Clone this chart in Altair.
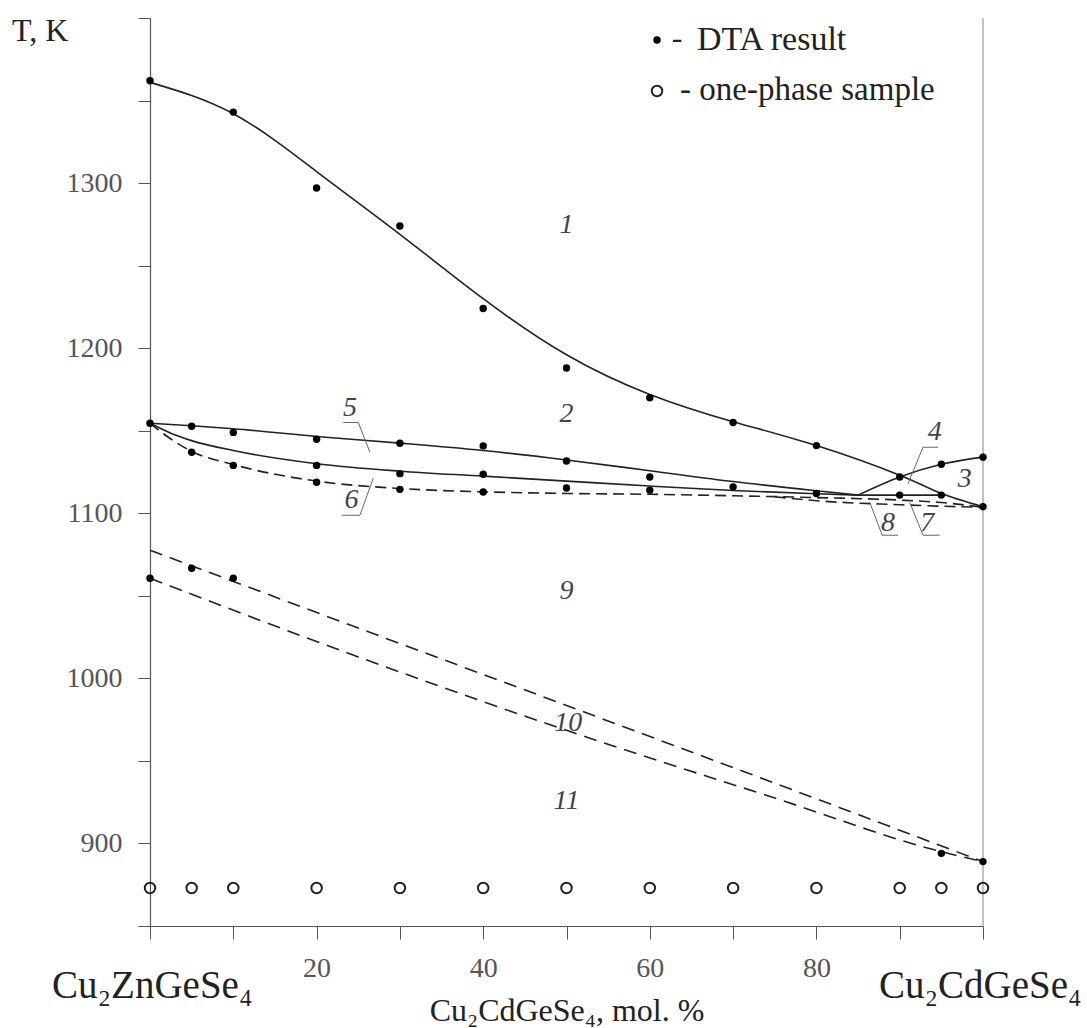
import altair as alt
import pandas as pd

SERIF = "'Liberation Serif', 'Times New Roman', 'DejaVu Serif', serif"
INK = "#222222"

# ---- DTA thermal effects (x = mol. % Cu2CdGeSe4, T in K) ----
dta_x = [0, 10, 20, 30, 40, 50, 60, 70, 80, 90, 95, 100,
         0, 5, 10, 20, 30, 40, 50,
         20, 30, 40,
         50, 60, 60, 70, 80,
         5, 10, 20, 30, 40,
         90, 95, 100,
         0, 5, 10, 95, 100]
dta_t = [1362, 1343, 1297, 1274, 1224, 1188, 1170, 1155, 1141, 1122, 1111, 1104,
         1154.5, 1152.7, 1149, 1144.8, 1142.4, 1140.8, 1131.7,
         1129, 1124, 1123.6,
         1115.3, 1122, 1114, 1116, 1112,
         1137, 1129, 1118.8, 1114.5, 1112.9,
         1111, 1129.7, 1134,
         1060.6, 1066.7, 1060.6, 894, 889]

# ---- one-phase samples ----
single_x = [0, 5, 10, 20, 30, 40, 50, 60, 70, 80, 90, 95, 100]
single_t = [873] * len(single_x)

# ---- solid phase boundaries ----
liquidus_x = [0, 10, 20, 30, 40, 50, 60, 70, 80, 90, 95, 100]
liquidus_t = [1361, 1342, 1307, 1269, 1230, 1196, 1172, 1155.5, 1141, 1123, 1112, 1104]

upper_x = [0, 5, 10, 20, 30, 40, 50, 60, 70, 80, 85]
upper_t = [1154.5, 1153, 1151.2, 1146.5, 1142.5, 1138, 1132.3, 1125.8, 1119.2, 1113.6, 1111]

middle_x = [0, 2.5, 5, 10, 20, 30, 40, 50, 60, 70, 80, 85]
middle_t = [1154.5, 1148.5, 1144, 1138, 1130, 1125.5, 1122.5, 1119.5, 1116.5, 1113.8, 1111.8, 1111]

plateau_x = [85, 95]
plateau_t = [1111, 1111]

rising_x = [85, 90, 95, 100]
rising_t = [1111, 1122, 1129.7, 1134]

# ---- dashed phase boundaries ----
solidus_x = [0, 2.5, 5, 10, 20, 30, 40, 50, 60, 70, 80, 90, 95, 100]
solidus_t = [1154.5, 1145, 1137.5, 1129.5, 1119.5, 1115, 1113, 1112, 1111.5, 1110.6, 1109.5, 1108, 1106.5, 1103.6]

branch_x = [75, 80, 90, 95, 100]
branch_t = [1110, 1107.6, 1105.2, 1104.3, 1103.6]

low_upper_x = [0, 25, 50, 75, 100]
low_upper_t = [1077.6, 1030.5, 983.6, 936.5, 889]

low_lower_x = [0, 25, 50, 75, 95, 100]
low_lower_t = [1060.6, 1013, 968.5, 927.5, 895, 889]

# ---- phase field numbers ----
field_text = ["1", "2", "3", "4", "5", "6", "7", "8", "9", "10", "11"]
field_x = [50, 50, 97.8, 94.2, 24, 24.2, 93.3, 88.6, 50, 50.2, 50]
field_t = [1274.5, 1160, 1121, 1149, 1163.6, 1108, 1094, 1094, 1053, 973, 926]

# ---- leader lines (x, T, x2, T2) ----
lead_x = [23.2, 25, 23, 25.2, 92.8, 92.8, 87.9, 87.9, 92.8, 92.8]
lead_t = [1155, 1155, 1098.8, 1098.8, 1140, 1140, 1086.7, 1086.7, 1086.7, 1086.7]
lead_x2 = [25, 26.4, 25.2, 26.8, 94.6, 91, 89.8, 86.4, 94.8, 91.2]
lead_t2 = [1155, 1137, 1098.8, 1121.2, 1140, 1118, 1086.7, 1106.7, 1086.7, 1106.7]


def curves(named):
    rows = []
    for name, xs, ts in named:
        for i, (a, b) in enumerate(zip(xs, ts)):
            rows.append({"curve": name, "i": i, "x": a, "T": b})
    return pd.DataFrame(rows)


liquidus_df = curves([("liquidus", liquidus_x, liquidus_t)])
solid_df = curves([("upper", upper_x, upper_t),
                   ("middle", middle_x, middle_t),
                   ("rising", rising_x, rising_t)])
plateau_df = curves([("plateau", plateau_x, plateau_t)])
dash_fine_df = curves([("solidus", solidus_x, solidus_t),
                       ("branch", branch_x, branch_t)])
dash_low_df = curves([("low_upper", low_upper_x, low_upper_t),
                      ("low_lower", low_lower_x, low_lower_t)])

dta_df = pd.DataFrame({"x": dta_x, "T": dta_t})
single_df = pd.DataFrame({"x": single_x, "T": single_t})
field_df = pd.DataFrame({"label": field_text, "x": field_x, "T": field_t})
lead_df = pd.DataFrame({"x": lead_x, "T": lead_t, "x2": lead_x2, "T2": lead_t2})

xscale = alt.Scale(domain=[0, 100], nice=False, zero=False)
yscale = alt.Scale(domain=[850, 1400], nice=False, zero=False)

x_axis = alt.Axis(
    values=list(range(0, 101, 10)), format="d",
    labelExpr="(datum.value % 20 == 0 && datum.value > 0 && datum.value < 100) ? datum.label : ''",
    grid=False, title=None, tickSize=13, labelPadding=15,
    labelFont=SERIF, labelFontSize=28, labelColor="#555555",
    domainColor="#555555", tickColor="#555555", domainWidth=1.2, tickWidth=1,
)
y_axis = alt.Axis(
    values=list(range(850, 1401, 50)), format="d",
    labelExpr="(datum.value % 100 == 0 && datum.value >= 900 && datum.value <= 1300) ? datum.label : ''",
    grid=False, title=None, tickSize=12, labelPadding=16,
    labelFont=SERIF, labelFontSize=28, labelColor="#555555",
    domainColor="#555555", tickColor="#555555", domainWidth=1.2, tickWidth=1,
)

X = alt.X("x:Q", scale=xscale, axis=x_axis)
Y = alt.Y("T:Q", scale=yscale, axis=y_axis)

right_edge = alt.Chart(pd.DataFrame({"x": [100]})).mark_rule(
    color="#999999", strokeWidth=1.2
).encode(x=alt.X("x:Q", scale=xscale))

liquidus = alt.Chart(liquidus_df).mark_line(
    color=INK, strokeWidth=1.6, interpolate="natural"
).encode(x=X, y=Y, detail="curve:N", order="i:Q")

solid = alt.Chart(solid_df).mark_line(
    color=INK, strokeWidth=1.6, interpolate="monotone"
).encode(x=X, y=Y, detail="curve:N", order="i:Q")

plateau = alt.Chart(plateau_df).mark_line(
    color=INK, strokeWidth=1.6
).encode(x=X, y=Y, detail="curve:N", order="i:Q")

dash_fine = alt.Chart(dash_fine_df).mark_line(
    color=INK, strokeWidth=1.6, strokeDash=[11, 6], interpolate="monotone"
).encode(x=X, y=Y, detail="curve:N", order="i:Q")

dash_low = alt.Chart(dash_low_df).mark_line(
    color=INK, strokeWidth=1.6, strokeDash=[13, 8], interpolate="monotone"
).encode(x=X, y=Y, detail="curve:N", order="i:Q")

dta = alt.Chart(dta_df).mark_point(
    filled=True, shape="circle", size=55, color="#000000", opacity=1
).encode(x=X, y=Y)

single = alt.Chart(single_df).mark_point(
    filled=False, shape="circle", size=110, color="#222222", strokeWidth=2, opacity=1
).encode(x=X, y=Y)

fields = alt.Chart(field_df).mark_text(
    font=SERIF, fontSize=28, fontStyle="italic", color="#444444",
    align="center", baseline="middle"
).encode(x=X, y=Y, text="label:N")

leaders = alt.Chart(lead_df).mark_rule(color="#666666", strokeWidth=1).encode(
    x=X, y=Y, x2="x2:Q", y2="T2:Q"
)


# ---- texts around the plot area (pixel offsets from the plot origin) ----
def note(text, px, py, size, align="left", baseline="middle", color=INK):
    return alt.Chart(pd.DataFrame({"t": [text]})).mark_text(
        font=SERIF, fontSize=size, align=align, baseline=baseline, color=color
    ).encode(x=alt.value(px), y=alt.value(py), text="t:N")


y_title = note("T, K", -138, 13, 32)
legend_dot = alt.Chart(pd.DataFrame({"t": ["dta"]})).mark_point(
    filled=True, shape="circle", size=55, color="#000000", opacity=1
).encode(x=alt.value(507), y=alt.value(22))
legend_dash1 = note("-", 527, 20, 32, align="center")
legend_txt1 = note("DTA result", 547, 22, 34)
legend_ring = alt.Chart(pd.DataFrame({"t": ["one"]})).mark_point(
    filled=False, shape="circle", size=110, color="#222222", strokeWidth=2, opacity=1
).encode(x=alt.value(507), y=alt.value(73))
legend_txt2 = note("- one-phase sample", 530, 72, 33)

left_comp = note("Cu\u2082ZnGeSe\u2084", -98, 980, 39, baseline="alphabetic")
right_comp = note("Cu\u2082CdGeSe\u2084", 729, 980, 39, baseline="alphabetic")
x_title = note("Cu\u2082CdGeSe\u2084, mol. %", 417, 1003, 32, align="center", baseline="alphabetic")

chart = alt.layer(
    right_edge, dash_low, dash_fine, plateau, solid, liquidus, leaders, dta, single, fields,
    y_title, legend_dot, legend_dash1, legend_txt1, legend_ring, legend_txt2,
    left_comp, right_comp, x_title,
).properties(
    width=833, height=908,
    autosize=alt.AutoSizeParams(type="none"),
    padding={"left": 150, "top": 18, "right": 104, "bottom": 102},
    background="white",
).configure_view(stroke=None)

chart.save("out.html", embed_options={"renderer": "svg", "actions": False})
